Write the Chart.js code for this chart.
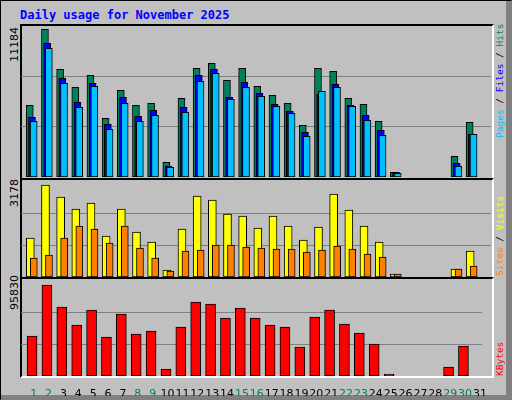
<!DOCTYPE html>
<html>
<head>
<meta charset="utf-8">
<script src="https://cdn.jsdelivr.net/npm/chart.js@4/dist/chart.umd.min.js"></script>
<style>
  body { margin: 0; background: #fff; }
  #win { position: absolute; left: 0; top: 0; width: 510px; height: 398px; background: #C0C0C0;
         border-left: 1px solid #000; border-top: 1px solid #000; border-right: 1px solid #808080; border-bottom: 1px solid #808080; }
  #win2 { position: absolute; left: 0; top: 0; width: 505px; height: 394px; border-right: 5px solid #808080; border-bottom: 4px solid #808080; }
  .panel { position: absolute; left: 20px; width: 470px; border-top: 2px solid #000; border-left: 2px solid #000;
           border-right: 2px solid #fff; border-bottom: 2px solid #fff; box-sizing: content-box; }
  canvas { position: absolute; }
  .t { position: absolute; font-family: "DejaVu Sans Mono", monospace; font-size: 11px; white-space: nowrap; }
  .rot { transform: rotate(-90deg); transform-origin: left top; }
</style>
</head>
<body>
<div id="win"><div id="win2"></div></div>
<div class="t" style="left:20px;top:8px;color:#0000FF;font-weight:bold;font-size:12px">Daily usage for November 2025</div>

<div class="panel" style="top:24px;height:152px"></div>
<div class="panel" style="top:178px;height:97px"></div>
<div class="panel" style="top:277px;height:97px"></div>

<canvas id="c1" style="left:21px;top:26px;width:470px;height:151px"></canvas>
<canvas id="c2" style="left:21px;top:181px;width:470px;height:96px"></canvas>
<canvas id="c3" style="left:21px;top:281px;width:470px;height:115px"></canvas>

<div class="t rot" style="left:8px;top:62px;font-family:'DejaVu Sans';font-size:11px">11184</div>
<div class="t rot" style="left:8px;top:207px;font-family:'DejaVu Sans';font-size:11px">3178</div>
<div class="t rot" style="left:8px;top:310px;font-family:'DejaVu Sans';font-size:11px">95830</div>

<div class="t rot" style="left:494px;top:138px;font-size:9.5px"><span style="color:#00C0FF">Pages</span> / <span style="color:#0000FF">Files</span> / <span style="color:#00805C">Hits</span></div>
<div class="t rot" style="left:494px;top:276px;font-size:9.5px"><span style="color:#FF8000">Sites</span> / <span style="color:#FFFF00">Visits</span></div>
<div class="t rot" style="left:494px;top:376px;font-size:9.5px;color:#FF0000">KBytes</div>

<script>
const days = [1,2,3,4,5,6,7,8,9,10,11,12,13,14,15,16,17,18,19,20,21,22,23,24,25,26,27,28,29,30,31];
const weekendDays = [1,2,8,9,15,16,22,23,29,30];
const hits   = [5311,10940,7977,6644,7533,4348,6422,5311,5459,1089,5829,8051,8422,7163,8051,6718,6052,5459,3829,8051,7829,5829,5385,4126,348,0,0,0,1533,4052,0];
const files  = [4422,9903,7311,5533,6940,3904,5903,4496,4940,815,5163,7533,7977,5903,7014,6200,5385,4866,3311,6126,6866,5311,4570,3459,348,0,0,0,1015,3163,0];
const pages  = [4126,9533,6940,5163,6718,3533,5459,4126,4570,718,4792,7089,7681,5755,6644,5977,5237,4718,3015,6348,6644,5237,4200,3089,274,0,0,0,793,3163,0];
const visits = [1291,3045,2648,2250,2449,1357,2250,1489,1158,232,1588,2680,2548,2085,2018,1621,2018,1688,1224,1655,2747,2217,1688,1158,99,0,0,0,265,860,0];
const sites  = [629,728,1291,1688,1588,1125,1688,960,629,199,860,893,1059,1059,993,960,927,927,827,893,1026,927,761,662,99,0,0,0,265,364,0];
const kbytes = [40345,91790,69594,51440,66570,39337,62535,42360,45390,7060,49420,74640,72620,58500,68590,58500,51440,49420,29250,59510,66570,52450,43370,32275,2017,0,0,0,9077,30258,0];
const maxHits = 11184, maxVisits = 3178, maxKbytes = 95830;

const xMin = 0.276, xMax = 31.263;

function series(vals, shift, color, width, order) {
  return {
    data: days.map((d, i) => ({ x: d + shift, y: vals[i] })).filter(p => p.y > 0),
    backgroundColor: color, borderColor: '#000', borderWidth: 1, borderSkipped: false,
    barThickness: width, grouped: false, order: order
  };
}

function yAxis(max) {
  return {
    min: 0, max: max, display: true,
    ticks: { display: false },
    border: { display: false },
    grid: { color: '#808080', lineWidth: 1, drawTicks: false },
    afterBuildTicks: s => { s.ticks = [{ value: max / 3 }, { value: 2 * max / 3 }]; },
    afterFit: s => { s.width = 0; }
  };
}

function makeChart(id, datasets, max, withLabels) {
  const scales = {
    x: { type: 'linear', min: xMin, max: xMax, offset: false, display: false },
    y: yAxis(max)
  };
  if (withLabels) {
    scales.x2 = {
      type: 'linear', position: 'bottom', min: xMin - 0.13, max: xMax - 0.13, offset: false,
      grid: { display: false }, border: { display: false },
      afterBuildTicks: s => { s.ticks = days.map(v => ({ value: v })); },
      afterFit: s => { s.height = 20; },
      ticks: {
        autoSkip: false, maxRotation: 0, padding: 4,
        font: { family: 'DejaVu Sans', size: 11 },
        color: c => weekendDays.includes(c.tick.value) ? '#00805C' : '#000',
        callback: v => String(v)
      }
    };
  }
  new Chart(document.getElementById(id), {
    type: 'bar',
    data: { datasets: datasets },
    options: {
      responsive: false, animation: false, maintainAspectRatio: false,
      layout: { padding: 0 },
      plugins: { legend: { display: false }, tooltip: { enabled: false } },
      scales: scales
    }
  });
}

[['c1', 470, 151], ['c2', 470, 96], ['c3', 470, 115]].forEach(([id, w, h]) => {
  const c = document.getElementById(id); c.width = w; c.height = h;
});

makeChart('c1', [
  series(hits, -0.145, '#00805C', 7, 3),
  series(files, 0, '#0000FF', 7, 2),
  series(pages, 0.112, '#00C0FF', 7, 1)
], maxHits, false);

makeChart('c2', [
  series(visits, -0.11, '#FFFF00', 8, 2),
  series(sites, 0.12, '#FF8000', 7, 1)
], maxVisits, false);

makeChart('c3', [
  series(kbytes, 0.02, '#FF0000', 10, 1)
], maxKbytes, true);
</script>
</body>
</html>
